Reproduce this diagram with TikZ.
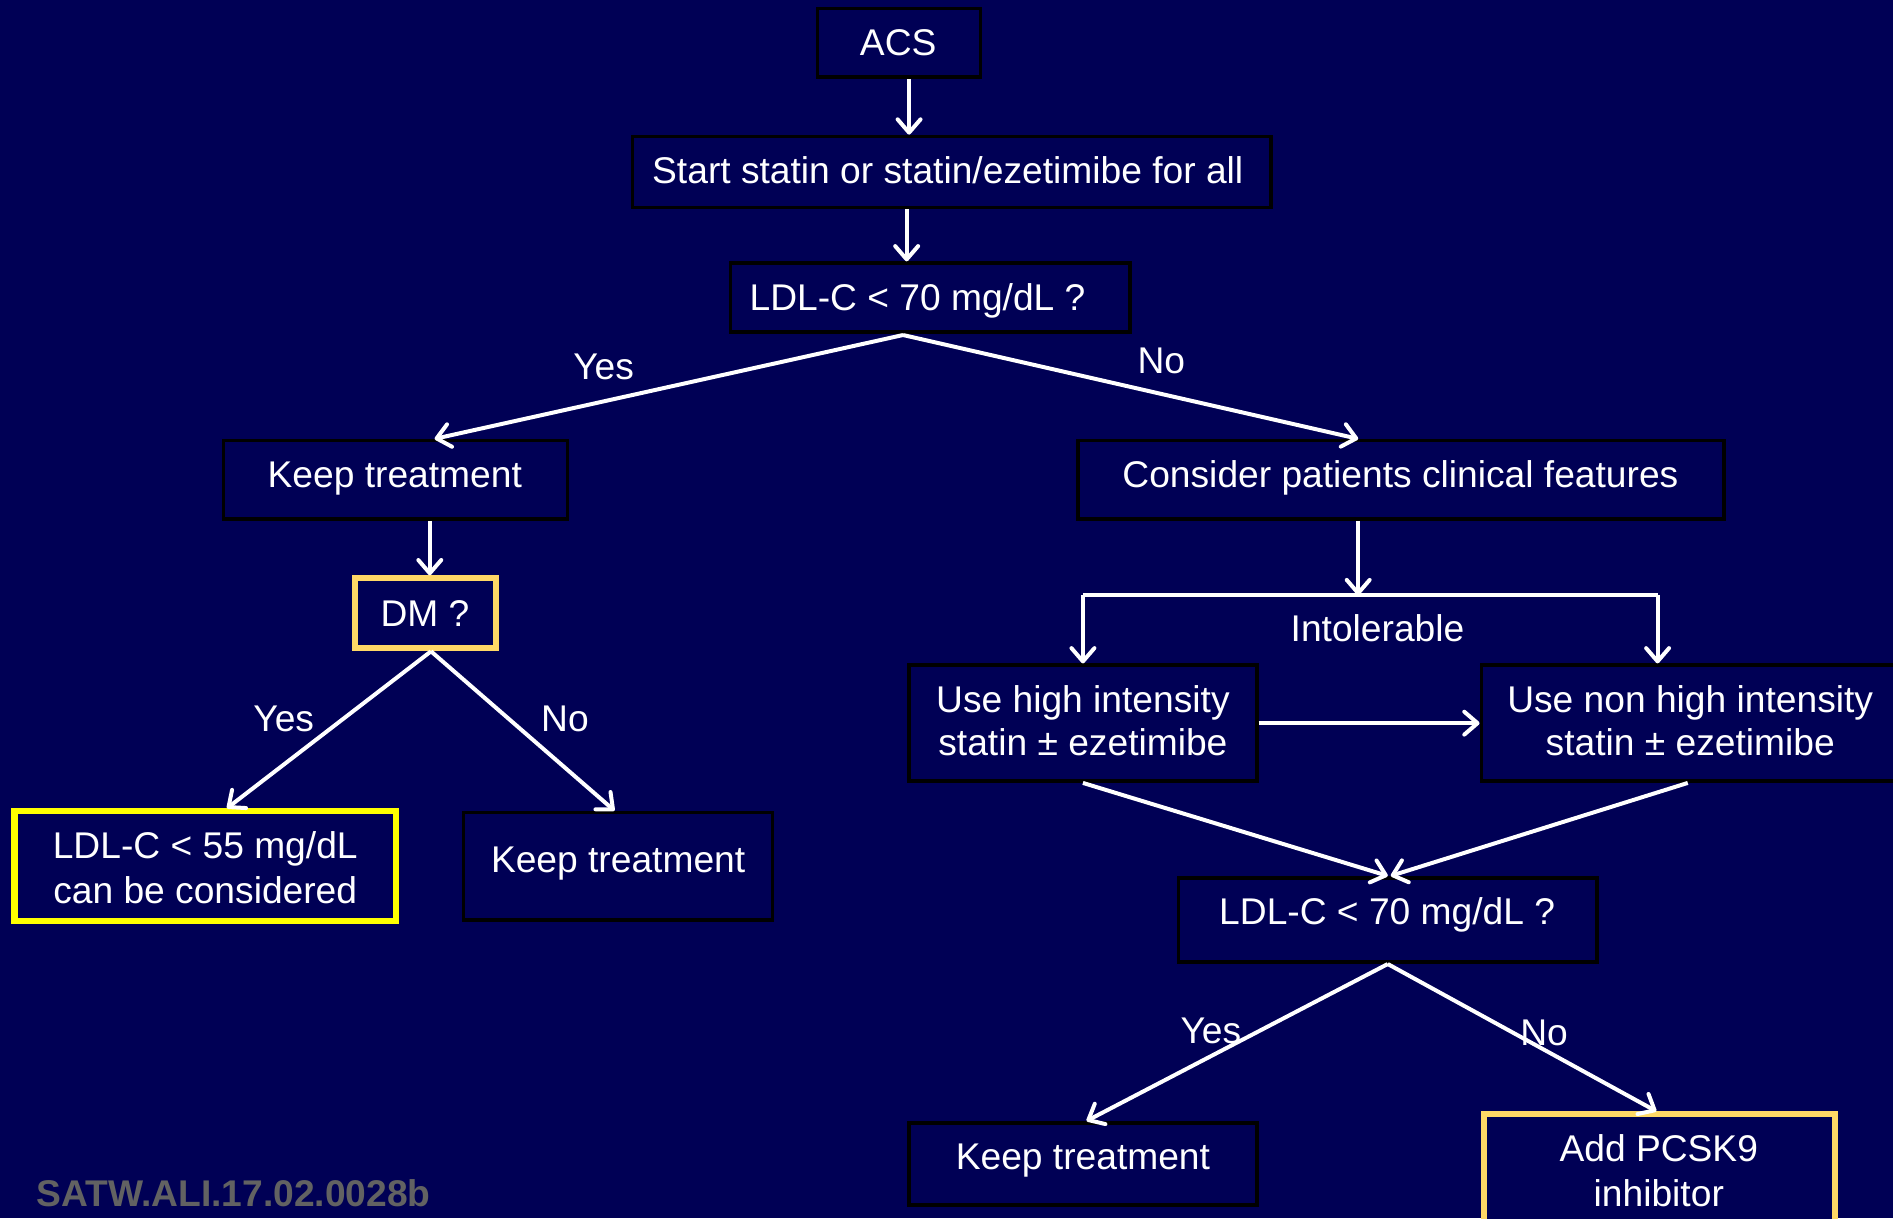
\documentclass[tikz,border=0pt]{standalone}
\usepackage{fontspec}
\setmainfont{Liberation Sans}
\usetikzlibrary{arrows.meta}
\definecolor{bg}{RGB}{0,0,85}
\definecolor{goldb}{RGB}{255,215,102}
\definecolor{yelb}{RGB}{255,255,0}
\definecolor{wmark}{RGB}{98,98,98}
\begin{document}
\begin{tikzpicture}[x=1pt,y=-1pt,
  box/.style={draw=black, line width=3pt, fill=bg, inner sep=0pt},
  ybox/.style={draw=yelb, line width=5pt, fill=bg, inner sep=0pt},
  gbox/.style={draw=goldb, line width=5pt, fill=bg, inner sep=0pt},
  txt/.style={text=white, font=\fontsize{30.8}{37}\selectfont, anchor=base, inner sep=0pt},
  arr/.style={draw=white, line width=3.3pt, -{Straight Barb[length=11pt,width=19pt,round]}},
  ln/.style={draw=white, line width=3.3pt}]
\clip (0,0) rectangle (1568,1009);
\fill[bg] (0,0) rectangle (1568,1009);

% boxes
\node[box, minimum width=135pt, minimum height=57pt] (acs) at (744.5,35.5) {};
\node[box, minimum width=529pt, minimum height=59pt] (start) at (788.5,142.5) {};
\node[box, minimum width=331pt, minimum height=57pt] (ldlA) at (770.5,246.5) {};
\node[box, minimum width=285pt, minimum height=65pt] (keepA) at (327.5,397.5) {};
\node[box, minimum width=535pt, minimum height=65pt] (cons) at (1160.5,397.5) {};
\node[gbox, minimum width=117pt, minimum height=58pt] (dm) at (352.5,508) {};
\node[ybox, minimum width=316pt, minimum height=91pt] (ldl55) at (170,717.5) {};
\node[box, minimum width=256pt, minimum height=89pt] (keepB) at (512,717.5) {};
\node[box, minimum width=288pt, minimum height=96pt] (high) at (897,599) {};
\node[box, minimum width=346pt, minimum height=96pt] (non) at (1400,599) {};
\node[box, minimum width=347pt, minimum height=70pt] (ldlB) at (1149.5,762) {};
\node[box, minimum width=288pt, minimum height=68pt] (keepC) at (897,964) {};
\node[gbox, minimum width=291pt, minimum height=104pt] (pcsk) at (1374.5,975) {};

% texts
\node[txt] (tacs) at (744,46) {ACS};
\node[txt] (tstart) at (785,152) {Start statin or statin/ezetimibe for all};
\node[txt] (tldlA) at (760,257) {LDL-C < 70 mg/dL ?};
\node[txt] (tkeepA) at (327,404) {Keep treatment};
\node[txt] (tcons) at (1160,404) {Consider patients clinical features};
\node[txt] (tdm) at (352,519) {DM ?};
\node[txt] (tl55a) at (170,711) {LDL-C < 55 mg/dL};
\node[txt] (tl55b) at (170,748) {can be considered};
\node[txt] (tkeepB) at (512,723) {Keep treatment};
\node[txt] (thigha) at (897,590) {Use high intensity};
\node[txt] (thighb) at (897,626) {statin ± ezetimibe};
\node[txt] (tnona) at (1400,590) {Use non high intensity};
\node[txt] (tnonb) at (1400,626) {statin ± ezetimibe};
\node[txt] (tldlB) at (1149,766) {LDL-C < 70 mg/dL ?};
\node[txt] (tkeepC) at (897,969) {Keep treatment};
\node[txt] (tpa) at (1374,962) {Add PCSK9};
\node[txt] (tpb) at (1374,999) {inhibitor};

% labels
\node[txt] (yes1) at (500,314) {Yes};
\node[txt] (no1) at (962,309) {No};
\node[txt] (yes2) at (235,606) {Yes};
\node[txt] (no2) at (468,606) {No};
\node[txt] (intol) at (1141,531) {Intolerable};
\node[txt] (yes3) at (1003,864) {Yes};
\node[txt] (no3) at (1279,866) {No};

% connectors
\draw[arr] ([xshift=8.5pt]acs.south) -- ([xshift=-35.5pt]start.north);
\draw[arr] ([xshift=-37.5pt]start.south) -- ([xshift=-19.5pt]ldlA.north);
\draw[arr] ([xshift=-22.5pt,yshift=-1pt]ldlA.south) -- ([xshift=32.5pt]keepA.north);
\draw[arr] ([xshift=-22.5pt,yshift=-1pt]ldlA.south) -- ([xshift=-35.5pt]cons.north);
\draw[arr] ([xshift=28.5pt]keepA.south) -- ([xshift=3.5pt]dm.north);
\draw[arr] ([xshift=4.5pt]dm.south) -- ([xshift=18pt]ldl55.north);
\draw[arr] ([xshift=4.5pt]dm.south) -- ([xshift=-3pt]keepB.north);

\coordinate (jM) at (1125,493);
\coordinate (jL) at (897,493);
\coordinate (jR) at (1373,493);
\draw[arr] ([xshift=-35.5pt]cons.south) -- (jM);
\draw[ln] (jL) -- (jR);
\draw[arr] (jL) -- (high.north);
\draw[arr] (jR) -- ([xshift=-27pt]non.north);
\draw[arr] (high.east) -- (non.west);
\draw[arr] (high.south) -- (ldlB.north);
\draw[arr] ([xshift=-2pt]non.south) -- ([xshift=2.5pt]ldlB.north);
\draw[arr] (ldlB.south) -- ([xshift=3pt]keepC.north);
\draw[arr] (ldlB.south) -- ([xshift=-2.5pt]pcsk.north);

% watermark
\node[anchor=base west, inner sep=0pt, text=wmark, font=\fontsize{30.8}{36}\selectfont\bfseries] (wm) at (30,999) {SATW.ALI.17.02.0028b};
\end{tikzpicture}
\end{document}
